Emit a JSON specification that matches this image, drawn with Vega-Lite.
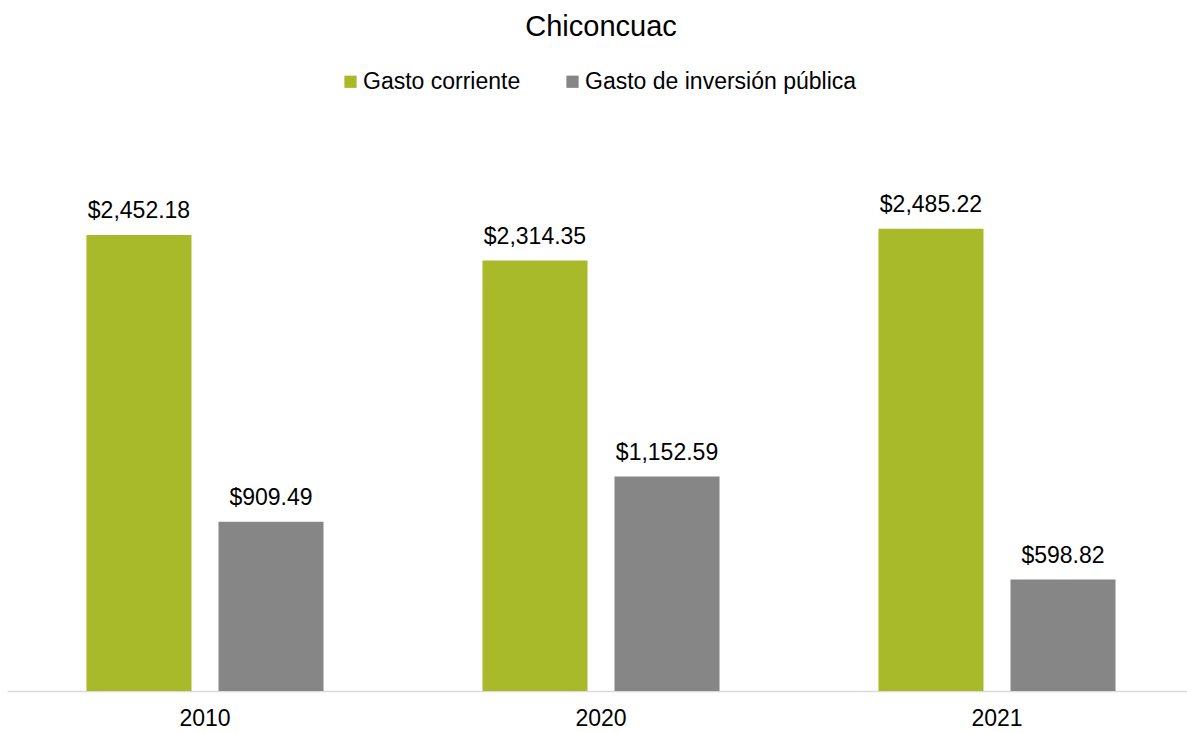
{
  "$schema": "https://vega.github.io/schema/vega-lite/v6.json",
  "width": 1188,
  "height": 558,
  "autosize": {"type": "none"},
  "padding": {"left": 7, "top": 133, "right": 0, "bottom": 42},
  "background": "white",
  "title": {"text": "Chiconcuac", "font": "Liberation Sans", "fontSize": 29, "fontWeight": "normal", "color": "#000000", "anchor": "middle", "offset": 28},
  "data": {"values": [
    {"year": "2010", "tipo": "Gasto corriente", "valor": 2452.18},
    {"year": "2010", "tipo": "Gasto de inversión pública", "valor": 909.49},
    {"year": "2020", "tipo": "Gasto corriente", "valor": 2314.35},
    {"year": "2020", "tipo": "Gasto de inversión pública", "valor": 1152.59},
    {"year": "2021", "tipo": "Gasto corriente", "valor": 2485.22},
    {"year": "2021", "tipo": "Gasto de inversión pública", "valor": 598.82}
  ]},
  "encoding": {
    "x": {"field": "year", "type": "nominal", "scale": {"paddingInner": 0, "paddingOuter": 0},
      "axis": {"title": null, "labelAngle": 0, "ticks": false, "domainColor": "#d9d9d9", "domainWidth": 1.5, "labelFont": "Liberation Sans", "labelFontSize": 23, "labelColor": "#000000", "labelPadding": 16}},
    "xOffset": {"field": "tipo", "type": "nominal", "scale": {"paddingInner": 0.2045, "paddingOuter": 0.602}},
    "y": {"field": "valor", "type": "quantitative", "scale": {"domain": [0, 3000]}, "axis": null}
  },
  "layer": [
    {
      "mark": {"type": "bar"},
      "encoding": {
        "color": {"field": "tipo", "type": "nominal", "scale": {"domain": ["Gasto corriente", "Gasto de inversión pública"], "range": ["#A8B92A", "#868686"]},
          "legend": {"title": null, "orient": "none", "direction": "horizontal", "legendX": 332, "legendY": -63, "symbolType": "square", "symbolSize": 150, "symbolStrokeWidth": 0, "labelFont": "Liberation Sans", "labelFontSize": 23, "labelColor": "#000000", "columnPadding": 40, "labelOffset": 1, "labelLimit": 400}}
      }
    },
    {
      "mark": {"type": "text", "baseline": "bottom", "dy": -12, "font": "Liberation Sans", "fontSize": 23, "color": "#000000"},
      "encoding": {
        "text": {"field": "valor", "type": "quantitative", "format": "$,.2f"}
      }
    }
  ],
  "config": {"view": {"stroke": null}}
}
